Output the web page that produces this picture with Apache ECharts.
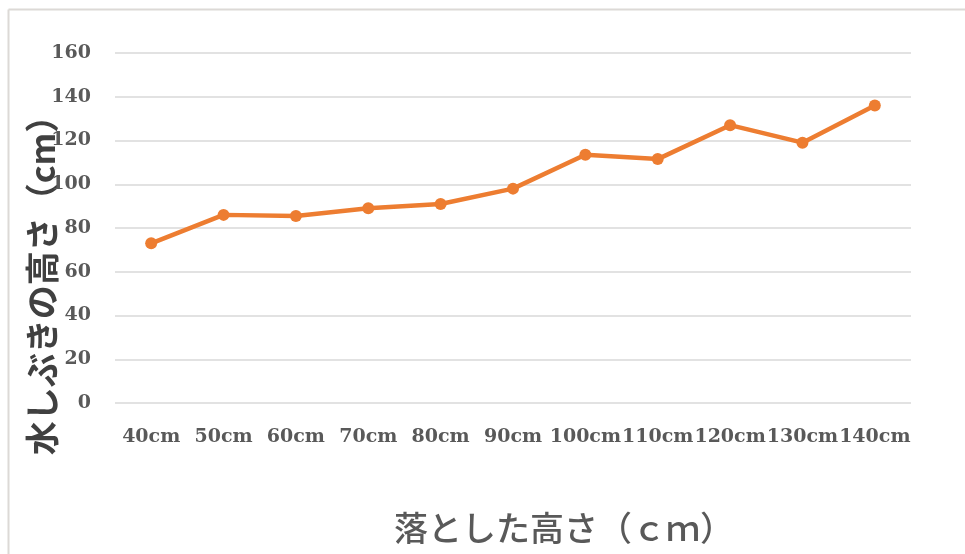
<!DOCTYPE html>
<html>
<head>
<meta charset="utf-8">
<script src="https://cdn.jsdelivr.net/npm/echarts@6/dist/echarts.min.js"></script>
<style>
  html, body { margin: 0; padding: 0; background: #ffffff; }
  #chart { width: 965px; height: 554px; }
</style>
</head>
<body>
<div id="chart"></div>
<script>
// Drop height for each trial
const dropHeights = ['40cm', '50cm', '60cm', '70cm', '80cm', '90cm', '100cm', '110cm', '120cm', '130cm', '140cm'];
// Measured splash height (cm)
const splashHeights = [73, 86, 85.5, 89, 91, 98, 113.5, 111.5, 127, 119, 136];
// Value axis settings
const yMin = 0;
const yMax = 160;
const yStep = 20;

const xTitle = '落とした高さ（ｃｍ）';
const yTitle = '水しぶきの高さ（cm）';

const labelFont = {
  color: '#595959',
  fontFamily: '"DejaVu Serif", serif',
  fontWeight: 'bold',
  fontSize: 19
};

const chart = echarts.init(document.getElementById('chart'), null, { renderer: 'canvas' });

chart.setOption({
  backgroundColor: '#ffffff',
  animation: false,
  grid: { left: 115, right: 54, top: 53, bottom: 151 },
  xAxis: {
    type: 'category',
    data: dropHeights,
    boundaryGap: true,
    axisLine: { show: false },
    axisTick: { show: false },
    axisLabel: Object.assign({ margin: 25, interval: 0 }, labelFont),
    splitLine: { show: false }
  },
  yAxis: {
    type: 'value',
    min: yMin,
    max: yMax,
    interval: yStep,
    axisLine: { show: false },
    axisTick: { show: false },
    axisLabel: Object.assign({ margin: 24 }, labelFont),
    splitLine: { lineStyle: { color: '#d9d9d9', width: 1.5 } }
  },
  series: [{
    type: 'line',
    data: splashHeights,
    symbol: 'circle',
    symbolSize: 12,
    lineStyle: { color: '#ED7D31', width: 4.5 },
    itemStyle: { color: '#ED7D31' }
  }],
  graphic: [
    // frame: left and top edges
    { type: 'line', shape: { x1: 8.5, y1: 9.5, x2: 8.5, y2: 554 }, style: { stroke: '#dcd9d6', lineWidth: 2 } },
    { type: 'line', shape: { x1: 8.5, y1: 9.5, x2: 965, y2: 9.5 }, style: { stroke: '#dcd9d6', lineWidth: 2 } },
    {
      type: 'text',
      x: 42, y: 277,
      rotation: Math.PI / 2,
      style: {
        text: yTitle,
        fill: '#404040',
        font: 'bold 34px "Noto Sans CJK JP"',
        align: 'center',
        verticalAlign: 'middle'
      }
    },
    {
      type: 'text',
      x: 564, y: 528,
      style: {
        text: xTitle,
        fill: '#595959',
        font: '500 34px "Noto Sans CJK JP"',
        align: 'center',
        verticalAlign: 'middle'
      }
    }
  ]
});
</script>
</body>
</html>
